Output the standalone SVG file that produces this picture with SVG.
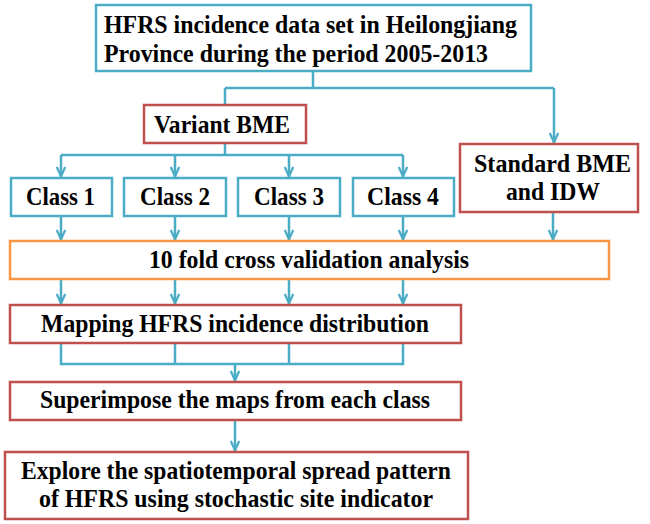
<svg xmlns="http://www.w3.org/2000/svg" width="650" height="524" viewBox="0 0 650 524">
<style>
.box{fill:#fff;stroke-width:2.5}
.b{stroke:#4BACC6}
.r{stroke:#C0504D}
.o{stroke:#F79646}
text{font-family:"Liberation Serif","Times New Roman",serif;font-weight:bold;font-size:26px;fill:#000;text-anchor:middle}
.c{fill:none;stroke:#4BACC6;stroke-width:2.5}
</style>
<defs>
<marker id="ah" viewBox="0 0 12 10" refX="11" refY="5" markerWidth="12" markerHeight="10" markerUnits="userSpaceOnUse" orient="auto">
<polyline points="1,0.8 10.5,5 1,9.2" fill="none" stroke="#4BACC6" stroke-width="2.2"/>
</marker>
</defs>
<g id="connectors">
<path class="c" d="M313,72 V88 M225,88 H554"/>
<path class="c" d="M225,88 V105"/>
<path class="c" d="M554,88 V143" marker-end="url(#ah)"/>
<path class="c" d="M225,143 V155 M61,155 H403"/>
<path class="c" d="M61,155 V177" marker-end="url(#ah)"/>
<path class="c" d="M175,155 V177" marker-end="url(#ah)"/>
<path class="c" d="M289,155 V177" marker-end="url(#ah)"/>
<path class="c" d="M403,155 V177" marker-end="url(#ah)"/>
<path class="c" d="M61,216 V240" marker-end="url(#ah)"/>
<path class="c" d="M175,216 V240" marker-end="url(#ah)"/>
<path class="c" d="M289,216 V240" marker-end="url(#ah)"/>
<path class="c" d="M403,216 V240" marker-end="url(#ah)"/>
<path class="c" d="M553,212 V240" marker-end="url(#ah)"/>
<path class="c" d="M61,279 V304" marker-end="url(#ah)"/>
<path class="c" d="M175,279 V304" marker-end="url(#ah)"/>
<path class="c" d="M289,279 V304" marker-end="url(#ah)"/>
<path class="c" d="M403,279 V304" marker-end="url(#ah)"/>
<path class="c" d="M61,343 V364 H403 V343 M175,343 V364 M289,343 V364"/>
<path class="c" d="M235,364 V381" marker-end="url(#ah)"/>
<path class="c" d="M235,420 V451" marker-end="url(#ah)"/>
</g>
<g id="data">
<rect class="box b" x="96" y="5" width="435" height="66"/>
<text x="310.5" y="33" textLength="413" lengthAdjust="spacingAndGlyphs">HFRS incidence data set in Heilongjiang</text>
<text x="296" y="62" textLength="384" lengthAdjust="spacingAndGlyphs">Province during the period 2005-2013</text>
</g>
<g id="variant">
<rect class="box r" x="144" y="105" width="162" height="38"/>
<text x="222" y="133" textLength="136" lengthAdjust="spacingAndGlyphs">Variant BME</text>
</g>
<g id="standard">
<rect class="box r" x="460" y="144" width="178" height="68"/>
<text x="552.5" y="172" textLength="157" lengthAdjust="spacingAndGlyphs">Standard BME</text>
<text x="553" y="200" textLength="94" lengthAdjust="spacingAndGlyphs">and IDW</text>
</g>
<g id="class1">
<rect class="box b" x="11" y="178" width="101" height="38"/>
<text x="60.5" y="205" textLength="69" lengthAdjust="spacingAndGlyphs">Class 1</text>
</g>
<g id="class2">
<rect class="box b" x="124" y="178" width="102" height="38"/>
<text x="175" y="205" textLength="70" lengthAdjust="spacingAndGlyphs">Class 2</text>
</g>
<g id="class3">
<rect class="box b" x="238" y="178" width="102" height="38"/>
<text x="289" y="205" textLength="70" lengthAdjust="spacingAndGlyphs">Class 3</text>
</g>
<g id="class4">
<rect class="box b" x="353" y="178" width="101" height="38"/>
<text x="403" y="205" textLength="72" lengthAdjust="spacingAndGlyphs">Class 4</text>
</g>
<g id="cv">
<rect class="box o" x="10" y="241" width="599" height="38"/>
<text x="309" y="268" textLength="320" lengthAdjust="spacingAndGlyphs">10 fold cross validation analysis</text>
</g>
<g id="mapping">
<rect class="box r" x="10" y="305" width="451" height="38"/>
<text x="235" y="332" textLength="388" lengthAdjust="spacingAndGlyphs">Mapping HFRS incidence distribution</text>
</g>
<g id="superimpose">
<rect class="box r" x="10" y="382" width="451" height="38"/>
<text x="235" y="408" textLength="390" lengthAdjust="spacingAndGlyphs">Superimpose the maps from each class</text>
</g>
<g id="explore">
<rect class="box r" x="5" y="452" width="463" height="67"/>
<text x="236" y="479" textLength="430" lengthAdjust="spacingAndGlyphs">Explore the spatiotemporal spread pattern</text>
<text x="236" y="507" textLength="394" lengthAdjust="spacingAndGlyphs">of HFRS using stochastic site indicator</text>
</g>
</svg>
